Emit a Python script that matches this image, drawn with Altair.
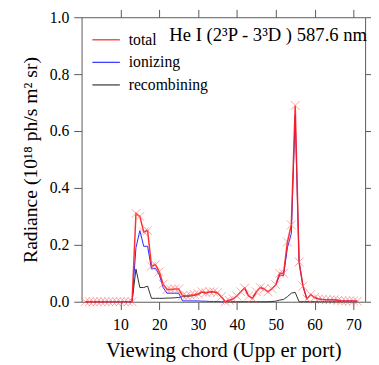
import altair as alt
import pandas as pd

# ---- data ----
chords = [1, 2, 3, 4, 5, 6, 7, 8, 9, 10, 11, 12, 13, 14, 15, 16, 17, 18, 19, 20,
          21, 22, 23, 24, 25, 26, 27, 28, 29, 30, 31, 32, 33, 34, 35, 36, 37, 38, 39, 40,
          41, 42, 43, 44, 45, 46, 47, 48, 49, 50, 51, 52, 53, 54, 55, 56, 57, 58, 59, 60,
          61, 62, 63, 64, 65, 66, 67, 68, 69, 70, 71]

total = [0, 0, 0, 0, 0, 0, 0, 0, 0, 0, 0, 0, 0, 0.31, 0.30, 0.245, 0.25, 0.125, 0.13, 0.105,
         0.062, 0.043, 0.043, 0.045, 0.045, 0.021, 0.021, 0.023, 0.025, 0.028, 0.035, 0.032, 0.035, 0.035, 0.032, 0.018, 0.0, 0.005, 0.01, 0.02,
         0.035, 0.048, 0.02, 0.012, 0.035, 0.05, 0.045, 0.035, 0.046, 0.06, 0.10, 0.10, 0.21, 0.27, 0.69, 0.14, 0.055, 0.01, 0.025, 0.015,
         0.01, 0.008, 0.007, 0.007, 0.007, 0.005, 0.003, 0.003, 0.003, 0.003, 0.002]

ionizing = [0, 0, 0, 0, 0, 0, 0, 0, 0, 0, 0, 0, 0, 0.19, 0.25, 0.195, 0.195, 0.115, 0.118, 0.095,
            0.05, 0.03, 0.03, 0.03, 0.03, 0.003, 0.003, 0.003, 0.003, 0.003, 0.002, 0.002, 0.001, 0.001, 0.001, 0.0, 0.0, 0.005, 0.01, 0.02,
            0.035, 0.048, 0.02, 0.012, 0.035, 0.05, 0.045, 0.035, 0.046, 0.058, 0.094, 0.092, 0.19, 0.24, 0.655, 0.14, 0.055, 0.01, 0.025, 0.015,
            0.01, 0.008, 0.007, 0.007, 0.007, 0.005, 0.003, 0.003, 0.003, 0.003, 0.002]

recombining = [0, 0, 0, 0, 0, 0, 0, 0, 0, 0, 0, 0, 0, 0.115, 0.05, 0.05, 0.055, 0.012, 0.012, 0.012,
               0.012, 0.013, 0.013, 0.014, 0.015, 0.018, 0.018, 0.02, 0.022, 0.025, 0.033, 0.03, 0.034, 0.034, 0.031, 0.018, 0.0, 0.0, 0.0, 0.0,
               0.0, 0.0, 0.0, 0.0, 0.0, 0.0, 0.0, 0.0, 0.001, 0.002, 0.006, 0.008, 0.018, 0.03, 0.033, 0.0, 0.0, 0.0, 0.0, 0.0,
               0, 0, 0, 0, 0, 0, 0, 0, 0, 0, 0]

series_names = ["total", "ionizing", "recombining"]
series_colors = ["#ff1a1a", "#2a2aff", "#303030"]
x_ticks = [10, 20, 30, 40, 50, 60, 70]
y_ticks = [0.0, 0.2, 0.4, 0.6, 0.8, 1.0]
annotation = ["He I  (2³P - 3³D ) 587.6 nm"]

rows = []
for name, vals in zip(series_names, [total, ionizing, recombining]):
    for c, v in zip(chords, vals):
        rows.append({"chord": c, "radiance": v, "series": name})
df = pd.DataFrame(rows)

FONT = "Liberation Serif"
AX = "#5a5a5a"

xscale = alt.Scale(domain=[0, 73], nice=False, zero=False)
yscale = alt.Scale(domain=[0, 1.0], nice=False)

color = alt.Color(
    "series:N",
    scale=alt.Scale(domain=series_names, range=series_colors),
    legend=alt.Legend(
        orient="none", legendX=10, legendY=8, title=None,
        symbolType="stroke", symbolSize=784, symbolStrokeWidth=1.3,
        labelFont=FONT, labelFontSize=16, labelColor="black",
        labelOffset=8, rowPadding=-13,
    ),
)

x_bottom = alt.X("chord:Q", scale=xscale, axis=alt.Axis(
    values=x_ticks, title="Viewing chord (Upp er port)", grid=False,
    domainColor=AX, tickColor=AX, tickSize=8, labelPadding=7,
    labelFont=FONT, labelFontSize=16, labelColor="black",
    titleFont=FONT, titleFontSize=21, titleFontWeight="normal", titleColor="black",
    titlePadding=8))
y_left = alt.Y("radiance:Q", scale=yscale, axis=alt.Axis(
    values=y_ticks, format=".1f", title="Radiance (10¹⁸ ph/s m² sr)", grid=False,
    domainColor=AX, tickColor=AX, tickSize=8, labelPadding=5,
    labelFont=FONT, labelFontSize=16, labelColor="black",
    titleFont=FONT, titleFontSize=20, titleFontWeight="normal", titleColor="black",
    titlePadding=9))

x_none = alt.X("chord:Q", scale=xscale, axis=None)
y_none = alt.Y("radiance:Q", scale=yscale, axis=None)

x_top = alt.X("chord:Q", scale=xscale, axis=alt.Axis(
    orient="top", values=x_ticks, labels=False, title=None, grid=False,
    domainColor=AX, tickColor=AX, tickSize=8))
y_right = alt.Y("radiance:Q", scale=yscale, axis=alt.Axis(
    orient="right", values=y_ticks, labels=False, title=None, grid=False,
    domainColor=AX, tickColor=AX, tickSize=8))

base = alt.Chart(df)

rec = base.transform_filter(alt.datum.series == "recombining").mark_line(
    strokeWidth=1).encode(x=x_bottom, y=y_left, color=color)
ion = base.transform_filter(alt.datum.series == "ionizing").mark_line(
    strokeWidth=1).encode(x=x_none, y=y_none, color=color)
tot = base.transform_filter(alt.datum.series == "total").mark_line(
    strokeWidth=1.5, opacity=0.9).encode(x=x_none, y=y_none, color=color)
mk = base.transform_filter(alt.datum.series == "total").mark_point(
    shape="M-1,-1L1,1M-1,1L1,-1", size=81, filled=False, strokeWidth=1,
    color="#ff6a6a", opacity=0.6).encode(x=x_top, y=y_right)

title_txt = alt.Chart(pd.DataFrame({"label": annotation})).mark_text(
    font=FONT, fontSize=19, align="right", baseline="alphabetic", color="black"
).encode(x=alt.value(291), y=alt.value(24), text="label:N")

chart = alt.layer(rec, ion, tot, mk, title_txt).resolve_axis(
    x="independent", y="independent"
).properties(
    width=289, height=290,
    padding={"left": 75, "top": 6, "right": 6, "bottom": 58},
    autosize=alt.AutoSizeParams(type="none"),
).configure_view(stroke=None)

chart.save("out.html", embed_options={"renderer": "svg", "actions": False})
